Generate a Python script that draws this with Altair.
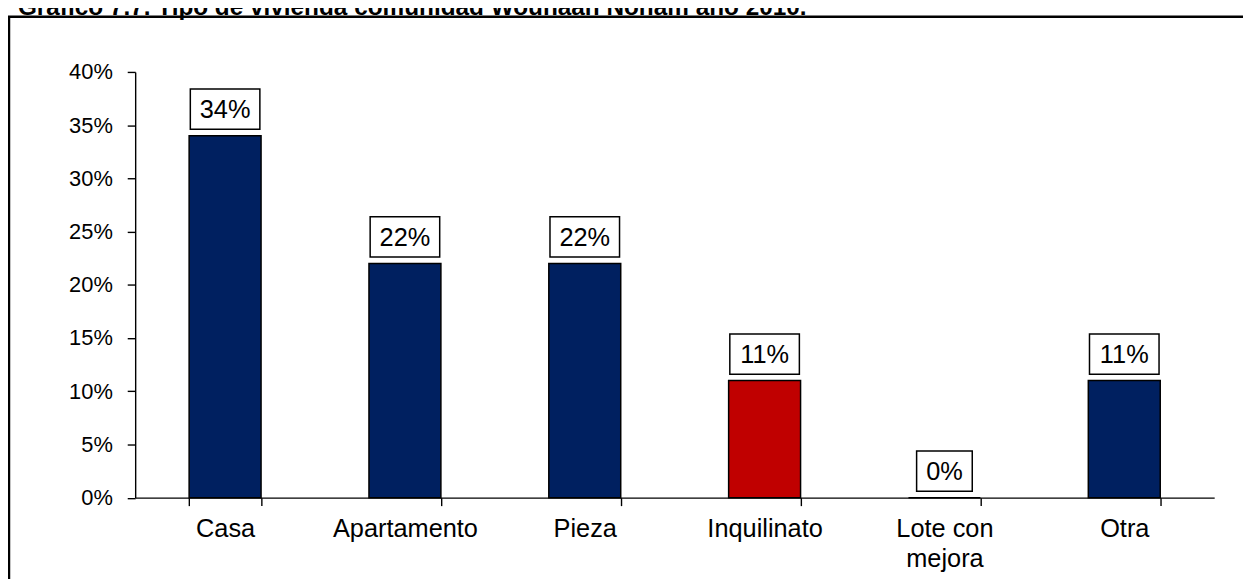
import altair as alt
import pandas as pd

# ---- data ----
categories = ["Casa", "Apartamento", "Pieza", "Inquilinato", "Lote con mejora", "Otra"]
values = [0.34, 0.22, 0.22, 0.11, 0.00, 0.11]
groups = ["base", "base", "base", "destacado", "base", "base"]
labels = ["34%", "22%", "22%", "11%", "0%", "11%"]
y_ticks = [0.0, 0.05, 0.10, 0.15, 0.20, 0.25, 0.30, 0.35, 0.40]
group_domain = ["base", "destacado"]
group_colors = ["#002060", "#C00000"]
title_text = "Gráfico 7.7. Tipo de vivienda comunidad Wounaan Nonam año 2010."

FONT = "Liberation Sans"

df = pd.DataFrame({"cat": categories, "v": values, "g": groups, "lab": labels})
df["nch"] = df["lab"].str.len()

x_enc = alt.X(
    "cat:N",
    sort=categories,
    scale=alt.Scale(paddingInner=0.6, paddingOuter=0.3),
    axis=alt.Axis(
        title=None,
        labelAngle=0,
        tickBand="extent",
        tickSize=8,
        tickColor="black",
        domainColor="black",
        domainWidth=1.4,
        tickWidth=1.4,
        labelPadding=11,
        labelFont=FONT,
        labelFontSize=25.5,
        labelColor="black",
        labelLineHeight=30,
        labelExpr="datum.value == 'Lote con mejora' ? ['Lote con', 'mejora'] : datum.value",
    ),
)
y_scale = alt.Scale(domain=[0, 0.4], nice=False)
y_enc = alt.Y(
    "v:Q",
    scale=y_scale,
    axis=alt.Axis(
        title=None,
        values=y_ticks,
        format=".0%",
        grid=False,
        tickSize=8,
        tickColor="black",
        domainColor="black",
        domainWidth=1.4,
        tickWidth=1.4,
        labelPadding=15,
        labelFont=FONT,
        labelFontSize=22,
        labelColor="black",
    ),
)

base = alt.Chart(df)

bars = base.mark_bar(stroke="black", strokeWidth=1.5).encode(
    x=x_enc,
    y=y_enc,
    color=alt.Color("g:N", scale=alt.Scale(domain=group_domain, range=group_colors), legend=None),
)

box_wide = base.transform_filter("datum.nch == 3").mark_bar(
    width=70, fill="white", stroke="black", strokeWidth=1.5, yOffset=-6.5, y2Offset=-47
).encode(x=alt.X("cat:N", sort=categories), y=alt.Y("v:Q", scale=y_scale), y2="v:Q")

box_narrow = base.transform_filter("datum.nch == 2").mark_bar(
    width=56, fill="white", stroke="black", strokeWidth=1.5, yOffset=-6.5, y2Offset=-47
).encode(x=alt.X("cat:N", sort=categories), y=alt.Y("v:Q", scale=y_scale), y2="v:Q")

texts = base.mark_text(
    font=FONT, fontSize=25.5, color="black", baseline="middle", dy=-26
).encode(x=alt.X("cat:N", sort=categories), y=alt.Y("v:Q", scale=y_scale), text="lab:N")

frame = alt.Chart(pd.DataFrame({"f": [1]})).mark_rect(
    fill="transparent", stroke="black", strokeWidth=2.5
).encode(
    x=alt.value(-127), x2=alt.value(2000), y=alt.value(-55.5), y2=alt.value(2000)
)

title = alt.Chart(pd.DataFrame({"t": [title_text]})).mark_text(
    font=FONT, fontSize=24.5, fontWeight="bold", align="left", baseline="alphabetic", color="black"
).encode(x=alt.value(-118), y=alt.value(-57), text="t:N")

chart = (
    alt.layer(frame, title, bars, box_wide, box_narrow, texts)
    .properties(
        width=1086,
        height=428.5,
        autosize=alt.AutoSizeParams(type="none"),
        padding={"left": 128, "top": 62.5, "right": 29, "bottom": 80},
        background="white",
    )
    .configure_view(stroke=None)
)

chart.save("out.html", embed_options={"renderer": "svg", "actions": False})
